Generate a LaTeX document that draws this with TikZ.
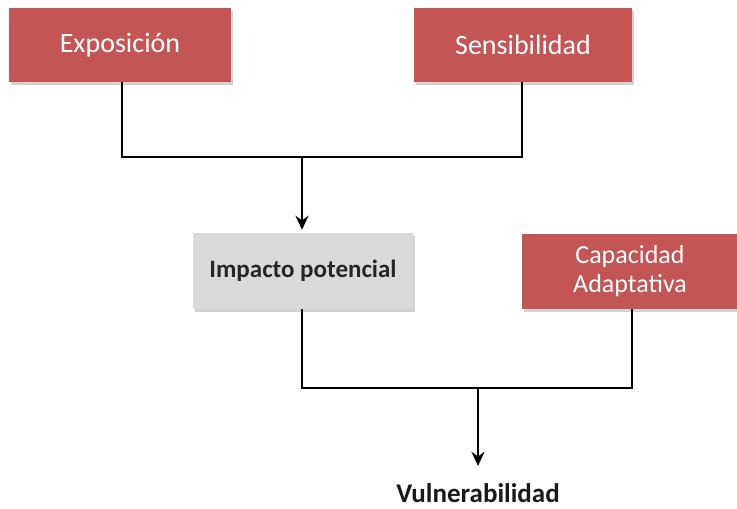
\documentclass[tikz,border=0pt]{standalone}
\usepackage{fontspec}
\setmainfont{Carlito}
\usetikzlibrary{arrows.meta,shadows}
\definecolor{boxred}{RGB}{195,86,84}
\definecolor{boxgray}{RGB}{218,218,218}
\tikzset{
  redbox/.style={fill=boxred, text=white, minimum width=222pt, minimum height=74pt,
    font=\fontsize{28}{30}\selectfont, align=center,
    drop shadow={shadow xshift=2pt, shadow yshift=-3pt, fill=black!35}},
  graybox/.style={fill=boxgray, text=black!85, minimum width=220pt, minimum height=76pt,
    font=\bfseries\fontsize{25}{28}\selectfont,
    drop shadow={shadow xshift=2pt, shadow yshift=-3pt, fill=black!35}},
  conn/.style={line width=2.8pt, black},
  arr/.style={conn, -{Stealth[length=14pt,width=13pt]}}
}
\begin{document}
\begin{tikzpicture}[x=1pt,y=-1pt]
\useasboundingbox (0,0) rectangle (737,509);

\node[redbox] (expo) at (120,45) {Exposición};
\node[redbox, minimum width=218pt] (sens) at (523,45) {Sensibilidad};
\node[graybox] (imp) at (303,271) {Impacto potencial};
\node[redbox, minimum width=216pt, minimum height=75pt,
  font=\fontsize{26}{29}\selectfont] (cap) at (630,271) {Capacidad\\Adaptativa};
\node[font=\bfseries\fontsize{27}{29}\selectfont, text=black!90] (vul) at (478,493) {Vulnerabilidad};

\coordinate (j1) at (302,157);
\coordinate (j2) at (478,388);

\draw[conn] (expo.south -| 122,0) |- (j1) -| (sens.south -| 522,0);
\draw[arr] (j1) -- ([yshift=3pt]imp.north -| j1);
\draw[conn] (imp.south -| 302,0) |- (j2) -| (cap.south -| 632,0);
\draw[arr] (j2) -- ([yshift=14pt]vul.north);

\end{tikzpicture}
\end{document}
